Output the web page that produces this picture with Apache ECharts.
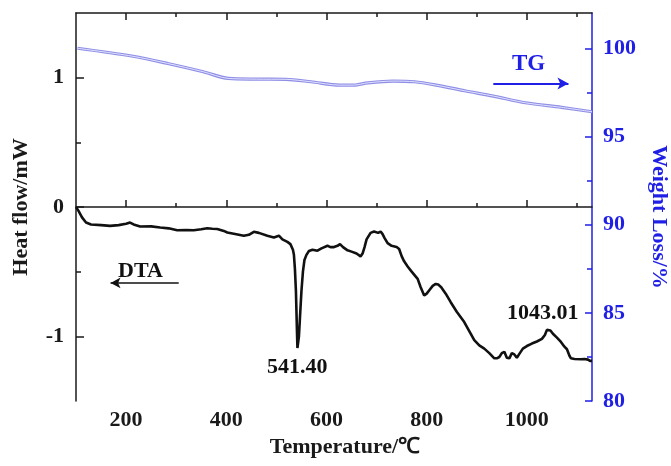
<!DOCTYPE html>
<html>
<head>
<meta charset="utf-8">
<script src="https://cdn.jsdelivr.net/npm/echarts@6/dist/echarts.min.js"></script>
<style>html,body{margin:0;padding:0;background:#fff}#c{width:671px;height:466px}</style>
</head>
<body>
<div id="c"></div>
<script>
// ---- data ----
const dtaTemp = [100,105,112,120,130,150,168,185,200,208,215,228,250,268,285,302,320,335,350,362,372,382,395,402,420,435,445,455,465,482,495,505,512,522,528,533,535,537,539,541,542,543.5,545,547,550,553,556,560,565,572,582,590,602,608,615,622,627,633,642,650,660,668,672,676,680,688,695,703,708,712,716,722,730,740,745,750,755,762,770,782,788,795,800,806,812,818,823,829,838,848,860,875,885,895,905,915,925,935,940,945,950,955,960,965,970,975,980,986,992,1000,1010,1020,1030,1036,1040,1043,1047,1052,1060,1068,1075,1080,1085,1088,1095,1108,1115,1122,1126,1130];
const dtaHeat = [0.00,-0.03,-0.08,-0.12,-0.135,-0.14,-0.146,-0.14,-0.13,-0.12,-0.135,-0.151,-0.15,-0.159,-0.165,-0.18,-0.178,-0.18,-0.172,-0.164,-0.168,-0.17,-0.185,-0.197,-0.21,-0.223,-0.215,-0.192,-0.2,-0.223,-0.235,-0.222,-0.25,-0.27,-0.287,-0.33,-0.37,-0.48,-0.65,-0.95,-1.09,-1.1,-1.0,-0.86,-0.65,-0.5,-0.41,-0.37,-0.34,-0.33,-0.338,-0.32,-0.30,-0.31,-0.31,-0.3,-0.287,-0.31,-0.335,-0.345,-0.36,-0.382,-0.36,-0.31,-0.25,-0.2,-0.19,-0.2,-0.19,-0.21,-0.24,-0.28,-0.3,-0.31,-0.325,-0.38,-0.42,-0.46,-0.5,-0.556,-0.62,-0.684,-0.67,-0.64,-0.61,-0.595,-0.6,-0.62,-0.67,-0.736,-0.81,-0.89,-0.96,-1.03,-1.07,-1.095,-1.13,-1.17,-1.17,-1.16,-1.13,-1.12,-1.165,-1.17,-1.13,-1.14,-1.166,-1.13,-1.095,-1.075,-1.056,-1.04,-1.02,-0.99,-0.95,-0.935,-0.955,-0.98,-1.01,-1.043,-1.08,-1.1,-1.15,-1.17,-1.175,-1.177,-1.175,-1.18,-1.19,-1.19];
const tgTemp = [103,211,283,354,404,461,519,569,626,654,683,733,776,819,876,933,997,1069,1130];
const tgWeight = [100.0,99.56,99.14,98.67,98.29,98.25,98.24,98.1,97.91,97.91,98.04,98.14,98.1,97.91,97.59,97.29,96.91,96.65,96.4];
const xMajorTicks = [200,400,600,800,1000];
const xMinorTicks = [300,500,700,900,1100];
const heatTicks = [-1,0,1];
const heatMinorTicks = [-0.5,0.5];
const weightTicks = [80,85,90,95,100];
const weightMinorTicks = [82.5,87.5,92.5,97.5];
// ---- end data ----

const dtaData = dtaTemp.map((t,i)=>[t,dtaHeat[i]]);
const tgData = tgTemp.map((t,i)=>[t,tgWeight[i]]);

const FONT = '"Liberation Serif","Times New Roman",serif';
const BLUE = '#1f1fe6';
const BLACK = '#1a1a1a';
const chart = echarts.init(document.getElementById('c'), null, {renderer:'canvas'});
const fmt = v => String(v);

function xAx(grid, pos, ticks, len, showLabel, showLine, name){
  return {
    type:'value', gridIndex:grid, position:pos, min:100, max:1130,
    name: name || '', nameLocation:'middle', nameGap:33,
    nameTextStyle:{fontFamily:FONT,fontWeight:'bold',fontSize:22,color:BLACK,padding:[0,0,0,22]},
    axisLine:{show:showLine,lineStyle:{color:BLACK,width:1.5}},
    axisTick:{show:true,inside:true,length:len,customValues:ticks,lineStyle:{color:BLACK,width:1.5}},
    axisLabel:{show:showLabel,customValues:ticks,formatter:fmt,margin:8,fontFamily:FONT,fontWeight:'bold',fontSize:22,color:BLACK},
    splitLine:{show:false}
  };
}
const G = {left:76,right:79,top:13,bottom:65,containLabel:false,outerBoundsMode:'none'};
const option = {
  animation:false,
  backgroundColor:'#fff',
  grid:[Object.assign({},G), Object.assign({},G)],
  xAxis:[
    xAx(0,'bottom', xMajorTicks, 7, true, true, 'Temperature/℃'),
    xAx(0,'top', xMajorTicks, 7, false, true),
    xAx(1,'bottom', xMinorTicks, 4, false, false),
    xAx(1,'top', xMinorTicks, 4, false, false)
  ],
  yAxis:[
    {type:'value', gridIndex:0, position:'left', min:-1.5, max:1.5,
     name:'Heat flow/mW', nameLocation:'middle', nameGap:44, nameRotate:90,
     nameTextStyle:{fontFamily:FONT,fontWeight:'bold',fontSize:22,color:BLACK},
     axisLine:{show:true,lineStyle:{color:BLACK,width:1.5}},
     axisTick:{inside:true,length:8,customValues:heatTicks,lineStyle:{color:BLACK,width:1.5}},
     axisLabel:{customValues:heatTicks,formatter:fmt,margin:12,fontFamily:FONT,fontWeight:'bold',fontSize:22,color:BLACK},
     splitLine:{show:false}},
    {type:'value', gridIndex:0, position:'right', min:80, max:102,
     name:'Weight Loss/%', nameLocation:'middle', nameGap:56, nameRotate:-90,
     nameTextStyle:{fontFamily:FONT,fontWeight:'bold',fontSize:22,color:BLUE,padding:[0,0,0,20]},
     axisLine:{show:true,lineStyle:{color:BLUE,width:1.5}},
     axisTick:{inside:true,length:7,customValues:weightTicks,lineStyle:{color:BLUE,width:1.5}},
     axisLabel:{customValues:weightTicks,formatter:fmt,margin:11,fontFamily:FONT,fontWeight:'bold',fontSize:22,color:BLUE},
     splitLine:{show:false}},
    {type:'value', gridIndex:1, position:'left', min:-1.5, max:1.5,
     axisLine:{show:false},
     axisTick:{inside:true,length:5,customValues:heatMinorTicks,lineStyle:{color:BLACK,width:1.5}},
     axisLabel:{show:false}, splitLine:{show:false}},
    {type:'value', gridIndex:1, position:'right', min:80, max:102,
     axisLine:{show:false},
     axisTick:{inside:true,length:5,customValues:weightMinorTicks,lineStyle:{color:BLUE,width:1.5}},
     axisLabel:{show:false}, splitLine:{show:false}}
  ],
  series:[
    {name:'TG', type:'line', xAxisIndex:0, yAxisIndex:1, data:tgData, showSymbol:false, smooth:0.3,
     lineStyle:{color:'#8f8fe6',width:3.2}, z:2,
     markLine:{silent:true, symbol:['none','arrow'], symbolSize:[9,11], label:{show:false},
       lineStyle:{color:BLUE,width:2,type:'solid'},
       data:[[{coord:[933,98.0]},{coord:[1083,98.0]}]]}},
    {name:'TG2', type:'line', xAxisIndex:0, yAxisIndex:1, data:tgData, showSymbol:false, smooth:0.3,
     lineStyle:{color:'#e2e2ff',width:1}, z:3},
    {name:'DTA', type:'line', xAxisIndex:0, yAxisIndex:0, data:dtaData, showSymbol:false,
     lineStyle:{color:'#111',width:2.6}, z:4,
     markLine:{silent:true, symbol:['none','arrow'], symbolSize:[8,10], label:{show:false},
       lineStyle:{color:'#111',width:1.5,type:'solid'},
       data:[[{coord:[305,-0.587]},{coord:[169,-0.587]}]]}}
  ],
  graphic:[
    {type:'text', left:267, top:356, style:{text:'541.40', font:'bold 22px '+FONT, fill:'#111'}},
    {type:'text', left:507, top:302, style:{text:'1043.01', font:'bold 22px '+FONT, fill:'#111'}},
    {type:'text', left:118, top:260, style:{text:'DTA', font:'bold 22px '+FONT, fill:'#111'}},
    {type:'text', left:512, top:53, style:{text:'TG', font:'bold 23px '+FONT, fill:BLUE}}
  ]
};
chart.setOption(option);
</script>
</body>
</html>
